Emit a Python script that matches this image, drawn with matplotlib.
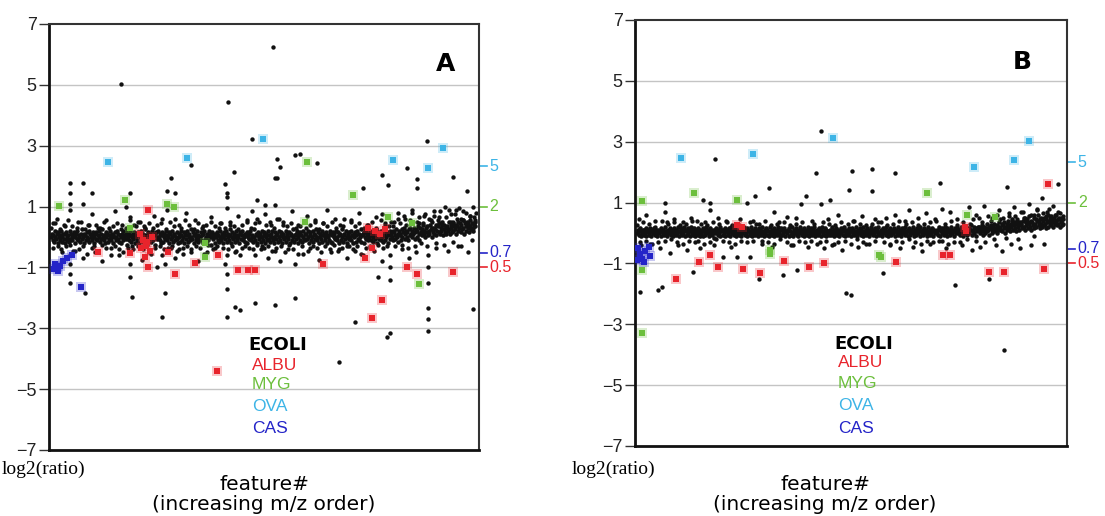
import numpy as np
import matplotlib
matplotlib.use('Agg')
import matplotlib.pyplot as plt
import matplotlib.transforms as mtransforms

# ---------------- data ----------------
ratio_ticks = [5, 2, 0.7, 0.5]
ratio_labels = ['5', '2', '0.7', '0.5']
y_ticks = [-7, -5, -3, -1, 1, 3, 5, 7]
legend_names = ['ECOLI', 'ALBU', 'MYG', 'OVA', 'CAS']

# Panel A: main (ECOLI) feature band, log2(ratio) per feature index
a_band = [
 0,.1,-.1,.05,-.15,.2,0,-.05,.1,-.2,.15,0,-.1,.05,.2,-.15,0,.1,-.05,-.2,.1,.15,-.1,0,.05,-.15,.2,-.05,.1,0,
 -.1,.05,.15,-.2,0,.1,-.05,.2,-.1,.05,0,-.15,.1,.25,-.05,0,-.2,.1,.05,-.1,.15,0,-.05,.2,-.15,.1,0,-.1,.05,.15,
 -.2,0,.1,-.05,.15,-.1,.05,.2,0,-.15,.1,-.05,.25,0,-.1,.05,-.2,.15,0,.1,-.15,.05,-.05,.2,0,-.1,.1,-.2,.05,0,
 .15,-.1,0,.2,-.05,.1,-.15,.05,0,-.2,.1,.2,-.1,0,.05,-.05,.15,-.25,.1,0,-.1,.2,.05,-.15,0,.1,-.05,.15,-.2,.05,
 0,-.1,.15,.05,-.2,.1,0,.2,-.05,-.15,.1,.05,-.1,.25,0,-.2,.05,.15,-.05,0,.1,-.15,.2,0,-.1,.05,.1,-.25,.15,0,
 -.05,.2,0,-.1,.1,-.2,.15,.05,-.15,0,.1,-.05,.2,-.1,.05,0,-.2,.15,.1,-.05,0,.2,-.15,.05,.1,-.1,0,.15,-.05,-.2,
 .1,0,-.15,.2,.05,-.1,0,.15,-.2,.1,-.05,.05,.2,-.15,0,.1,-.1,.25,0,-.05,.15,-.2,.05,.1,-.1,0,.2,-.15,.05,-.05,
 0,.15,-.1,.05,-.2,.1,.2,-.05,0,-.15,.1,.05,-.1,.2,0,-.25,.1,.15,-.05,0,.05,-.2,.1,0,.15,-.1,.05,-.15,.2,0,
 -.1,.1,0,-.2,.15,.05,-.05,.2,-.15,0,.1,-.1,.05,.25,-.2,0,.15,-.05,.1,-.15,0,.2,-.1,.05,0,-.2,.1,.15,-.05,.05,
 .2,-.1,0,.1,-.15,.05,.15,-.2,0,.1,-.05,.2,-.1,0,.05,-.15,.25,0,-.1,.1,.05,-.2,.15,0,-.05,.1,-.15,.2,0,-.1,
 .05,.15,-.2,0,.1,-.1,.2,-.05,.05,-.15,0,.1,.2,-.1,0,-.2,.15,.05,-.05,.1,-.15,0,.2,-.1,.05,.15,-.2,0,.1,-.05,
 0,.2,-.15,.1,-.05,0,.15,-.2,.05,.1,-.1,.25,0,-.15,.05,.1,-.05,.2,-.2,0,.1,-.1,.15,.05,-.15,0,.2,-.05,.1,-.1,
 .1,-.05,.2,0,-.2,.15,.05,-.1,0,.2,-.15,.1,-.05,.05,.25,-.1,0,.15,-.2,.1,0,-.05,.2,-.15,.05,.1,-.1,0,.15,-.2,
 .05,0,-.1,.2,.1,-.15,.05,-.2,.15,0,.1,-.05,.2,-.1,0,.15,-.2,.05,.1,-.1,.25,0,-.15,.1,.05,-.05,.2,-.2,0,.1,
 -.05,.15,0,-.1,.2,.05,-.2,.1,0,.15,-.15,.05,.2,-.05,.1,-.1,0,.25,-.15,.05,.1,-.2,.15,0,-.05,.2,.1,-.1,.05,0,
 .15,-.1,.05,.2,0,-.15,.1,-.05,.25,0,-.2,.1,.15,-.05,.05,-.1,.2,0,-.15,.1,.05,.2,-.1,0,.15,-.2,.1,.05,-.05,.2,
 .1,0,.2,-.1,.15,.05,-.05,.25,0,.1,-.15,.2,.05,.1,-.1,.25,0,.15,.3,-.05,.1,.2,0,.15,-.1,.25,.05,.3,.1,0,
 .2,.1,.3,-.05,.15,.25,0,.2,.35,.1,-.1,.3,.15,.05,.25,.4,.1,.2,0,.3,.15,.35,.05,.2,.1,.4,.25,0,.3,.15,
 .3,.1,.25,.4,.05,.2,.35,.15,.45,.1,.3,.2,.5,.05,.25,.4,.15,.3,.1,.35,.2,.5,.25,.1,.4,.3,.15,.45,.2,.35,
 .25,.4,.1,.35,.5,.2,.3,.45,.15,.4,.25,.55,.3,.1,.45,.35,.2,.5,.3,.4,.15,.35,.55,.25,.45,.3,.2,.4,.5,.35,
]
# Panel A: looser halo of the band (every 3rd feature)
a_halo = [
 .3,-.35,.45,-.3,.25,-.5,.4,-.3,.55,-.25,.35,-.45,.3,-.4,.5,-.3,.25,-.55,.4,-.35,
 -.3,.4,-.45,.3,-.25,.5,-.35,.3,-.6,.35,-.3,.45,-.4,.25,-.5,.3,-.35,.55,-.3,.4,
 .35,-.3,.5,-.4,.3,-.25,.45,-.55,.3,-.35,.4,-.3,.6,-.4,.25,-.35,.5,-.3,.35,-.45,
 -.4,.3,-.35,.55,-.3,.4,-.5,.25,-.3,.45,-.35,.3,-.55,.4,-.25,.5,-.4,.35,-.3,.3,
 .45,-.35,.3,-.4,.5,-.3,.35,-.45,.25,-.6,.4,-.3,.55,-.35,.3,-.4,.45,-.25,.5,-.3,
 -.35,.4,-.3,.5,-.45,.3,-.35,.6,-.3,.4,-.5,.35,-.25,.45,-.4,.3,-.55,.35,-.3,.5,
 .3,-.45,.4,-.3,.55,-.35,.25,-.5,.45,-.3,.35,-.4,.5,-.25,.3,-.45,.4,-.35,.6,-.3,
 -.3,.5,-.4,.35,-.3,.45,-.55,.3,-.35,.4,-.3,.5,-.45,.3,-.25,.55,-.35,.4,-.3,.35,
 .5,.35,-.3,.6,.45,-.25,.7,.4,-.35,.55,.8,-.3,.5,.65,-.2,.45,.75,-.3,.6,.5,
 .7,-.2,.55,.85,.4,-.25,.65,.9,.5,-.15,.75,.6,.95,-.3,.55,.8,.45,.7,-.1,.65,
]
# Panel A: scattered ECOLI features (feature index, log2 ratio)
a_scatter = [
 (3,.45),(8,.6),(14,-.4),(20,.35),(27,.9),(27,1.1),(27,-.6),(27,-.9),(27,-1.2),(31,-.45),(38,.5),(45,1.1),
 (45,-.7),(52,.4),(58,.75),(62,-.5),(66,.3),(72,-.8),(77,.55),(84,-.35),(90,.85),(96,-.6),(100,.4),(106,1.0),
 (111,.65),(111,-.9),(111,-1.3),(116,-.4),(122,.5),(128,-.75),(131,.35),(138,-.5),(145,.7),(150,-1.0),
 (155,.45),(157,-.6),(161,-.9),(164,.9),(169,-.35),(175,.6),(175,-.7),(180,.4),(186,-.55),(190,.8),(197,-.4),
 (203,.55),(208,-.8),(214,.35),(220,-.5),(226,.65),(232,-.35),(238,.45),(245,-.9),(248,.95),(248,-.6),
 (248,-1.2),(253,.4),(259,-.5),(264,.7),(270,-.35),(276,.5),(283,.85),(288,-.6),(290,.6),(296,-.4),(302,.75),
 (306,-.7),(311,.4),(316,1.05),(316,-.45),(319,.6),(323,-.8),(328,.5),(334,-.4),(340,.85),(344,-.9),(349,.4),
 (355,-.55),(361,.7),(366,-.35),(372,.5),(378,-.75),(384,.45),(390,.9),(395,-.5),(401,.6),(407,-.4),(412,.35),
 (418,-.7),(424,.55),(429,-.45),(435,.8),(440,-.6),(446,.4),(452,-.35),(458,.65),(462,-1.3),(467,.75),
 (467,-.8),(472,.45),(478,-.6),(478,-1.0),(478,-1.4),(484,.5),(490,.8),(495,-.4),(500,.6),(505,-.7),(510,.9),
 (515,-.5),(520,.45),(526,.7),(532,-.6),(532,-1.0),(532,-1.5),(536,.55),(540,.85),(544,-.35),(548,.65),
 (552,.4),(556,1.0),(560,-.45),(564,.75),(567,.5),(571,.9),(575,-.3),(578,.6),(582,.85),(586,.45),(589,-.5),
 (592,.7),(595,1.0),(598,.55),(600,.8),
 (99,5.03),(313,6.24),(250,4.44),(283,3.22),(197,2.37),(258,2.13),(169,1.93),(27,1.78),(45,1.78),(245,1.74),
 (319,1.93),(319,2.56),(111,1.44),(27,1.44),(58,1.45),(164,1.5),(175,1.45),(248,1.45),(248,1.3),(290,1.2),
 (302,1.05),(530,3.15),(344,2.7),(351,2.73),(375,2.43),(323,2.3),(316,1.94),(440,1.6),(467,2.03),(475,1.7),
 (502,2.27),(517,1.9),(517,1.6),(567,1.97),(587,1.5),(27,-1.5),(48,-1.85),(114,-1.97),(161,-1.85),
 (157,-2.63),(248,-1.7),(259,-2.3),(266,-2.4),(288,-2.17),(248,-2.63),(429,-2.8),(478,-3.15),(532,-2.33),
 (532,-2.7),(532,-3.1),(595,-2.37),(316,-2.23),(344,-2.0),(407,-4.1),(474,-3.3),
]
a_albu = [(137,.88),(125,.1),(130,-.1),(134,-.3),(140,-.45),(142,0),(135,-.15),(127,-.35),(66,-.5),(111,-.53),
          (133,-.66),(137,-1.0),(165,-.5),(175,-1.2),(203,-.85),(235,-.6),(264,-1.08),(278,-1.08),(288,-1.08),
          (384,-.88),(502,-1.0),(517,-1.2),(568,-1.15),(467,-2.07),(453,-2.66),(447,.3),(457,.2),(464,.1),
          (471,.25),(453,-.35),(443,-.7),(234,-4.4)]
a_myg = [(11,1.02),(104,1.2),(164,1.1),(173,.98),(111,.3),(217,-.2),(217,-.66),(361,2.47),(358,.5),(426,1.38),
         (475,.66),(510,.46),(520,-1.55)]
a_ova = [(80,2.47),(192,2.6),(299,3.22),(482,2.53),(553,2.92),(532,2.27)]
a_cas = [(6,-.9),(8,-1.0),(10,-1.12),(4,-1.05),(17,-.8),(23,-.7),(30,-.6),(42,-1.65),(13,-.95)]

# Panel B
b_band = [
 0,.1,-.05,.05,.15,-.1,.05,0,.1,-.05,.1,0,.15,-.1,.05,.1,0,-.05,.15,.05,-.1,.1,0,.05,.15,-.05,.1,0,-.1,.05,
 .1,0,.05,-.1,.15,.05,0,.1,-.05,.2,0,.05,-.1,.1,.05,0,.15,-.05,.05,.1,-.1,0,.15,.05,-.05,.1,0,.2,.05,-.1,
 .05,.15,0,-.05,.1,0,.2,-.1,.05,.1,-.05,.15,0,.05,-.1,.1,.2,0,-.05,.05,.15,-.1,0,.1,.05,-.05,.15,0,.1,-.1,
 0,.05,.15,-.1,.1,0,-.05,.2,.05,0,.1,-.1,.05,.15,0,-.05,.1,.05,-.15,.1,0,.15,.05,-.05,.1,0,.2,-.1,.05,.1,
 -.05,.1,0,.15,-.1,.05,.1,0,-.05,.15,.05,-.1,.2,0,.05,.1,-.05,0,.15,-.1,.05,.1,0,-.05,.2,.05,-.1,.1,0,.15,
 .1,-.05,.05,0,.15,-.1,.1,.05,0,-.05,.2,.1,-.1,0,.05,.15,-.05,.1,0,.05,-.1,.15,0,.1,-.05,.05,.2,0,-.1,.1,
 0,.15,-.05,.1,.05,-.1,0,.2,.05,-.05,.1,0,.15,-.1,.05,0,.1,-.05,.2,.05,0,-.1,.15,.1,-.05,0,.05,.15,-.1,.05,
 .05,0,.1,-.1,.15,.05,-.05,0,.2,-.1,.05,.1,0,.15,-.05,.05,-.1,.1,0,.2,.05,-.05,.1,0,-.1,.15,.05,0,.1,-.05,
 .1,.05,-.1,0,.15,.05,-.05,.1,0,.2,-.1,.05,0,.1,-.05,.15,0,.05,-.1,.1,.2,0,-.05,.05,.15,-.1,.1,0,.05,-.05,
 0,.1,.05,-.05,.2,0,-.1,.1,.05,0,.15,-.05,.1,0,-.1,.05,.15,0,.1,-.05,.05,.2,-.1,0,.1,.05,-.05,.15,0,.1,
 -.1,.05,.15,0,.1,-.05,.05,.2,0,-.1,.1,.05,0,.15,-.05,.1,0,-.1,.2,.05,0,.1,-.05,.15,0,.05,-.1,.1,.2,0,
 .05,-.05,.1,0,.15,-.1,.05,.1,0,.2,-.05,0,.1,.05,-.1,.15,0,.05,.1,-.05,.2,0,-.1,.05,.1,0,.15,-.05,.05,.1,
 0,.15,.05,-.1,.1,0,.2,-.05,.05,.1,0,-.1,.15,.05,0,.1,-.05,.2,0,.05,-.1,.1,.15,0,-.05,.1,.05,0,.2,-.1,
 .1,0,-.05,.15,.05,0,.1,-.1,.2,.05,0,.1,-.05,.15,0,.05,.1,-.1,0,.2,.05,-.05,.1,0,.15,.05,-.1,.1,0,.05,
 .05,.1,0,-.05,.2,.1,-.1,.05,.15,0,.1,-.05,.05,.2,0,-.1,.15,.05,.1,0,-.05,.2,.1,0,.05,-.1,.15,.05,0,.1,
 .15,0,.1,.05,-.05,.2,0,.1,-.1,.15,.05,0,.2,.1,-.05,.05,.15,0,.1,.25,-.05,.1,.05,.2,0,.15,-.1,.1,.05,.2,
 .1,.2,0,.15,.05,.25,-.05,.1,.2,0,.15,.3,.05,.1,.2,-.05,.15,.25,.1,0,.2,.3,.05,.15,.1,.25,0,.2,.35,.1,
 .2,.1,.3,.05,.25,.15,.35,0,.2,.3,.1,.4,.15,.25,.05,.3,.2,.45,.1,.25,.35,.15,.3,.05,.4,.2,.3,.1,.35,.25,
 .3,.15,.4,.2,.5,.1,.35,.25,.45,.15,.3,.55,.2,.4,.1,.35,.25,.5,.15,.3,.45,.2,.4,.6,.25,.35,.15,.5,.3,.2,
 .4,.25,.5,.3,.15,.45,.35,.6,.2,.4,.3,.55,.25,.45,.35,.2,.5,.3,.4,.6,.25,.45,.3,.5,.2,.4,.35,.25,.45,.3,
]
b_halo = [
 .25,-.3,.35,-.25,.3,-.35,.2,-.3,.4,-.25,.3,-.2,.35,-.3,.25,-.35,.3,-.25,.4,-.3,
 -.25,.3,-.35,.25,-.3,.35,-.2,.3,-.25,.4,-.3,.25,-.35,.3,-.25,.2,-.3,.35,-.25,.3,
 .3,-.25,.4,-.3,.25,-.35,.3,-.2,.35,-.3,.25,-.4,.3,-.25,.35,-.3,.2,-.25,.3,-.35,
 -.3,.35,-.25,.3,-.4,.25,-.3,.35,-.25,.3,-.35,.4,-.2,.3,-.3,.25,-.35,.3,-.25,.35,
 .35,-.3,.25,-.35,.3,-.25,.4,-.3,.3,-.2,.35,-.3,.25,-.35,.3,-.25,.35,-.3,.4,-.25,
 -.25,.3,-.35,.4,-.3,.25,-.3,.35,-.2,.3,.45,-.25,.5,.35,-.3,.55,.4,-.2,.6,.45,
 .5,-.15,.65,.4,.55,-.2,.7,.5,.35,.6,-.1,.75,.45,.65,.55,.8,.4,.6,.7,.5,
]
b_scatter = [
 (2,.45),(6,-.4),(12,.6),(18,-.35),(25,.4),(32,-.5),(39,1.0),(39,.7),(42,.35),(46,-.66),(52,.45),(58,-.4),
 (64,.35),(70,-.55),(76,.5),(78,-1.28),(84,.4),(88,-.5),(93,1.09),(96,.35),(103,1.0),(103,.77),(108,-.4),
 (114,.5),(120,-.8),(126,.35),(132,-.45),(141,-.8),(145,.45),(154,.99),(158,-.8),(163,.4),(171,-1.5),
 (176,-.35),(185,1.48),(190,-.45),(192,.7),(200,.35),(205,-1.38),(211,.53),(216,-.4),(223,.5),(225,-1.2),
 (230,.95),(237,1.2),(240,-.45),(246,.4),(252,1.97),(258,.95),(262,-.5),(268,.45),(271,1.08),(276,-.35),
 (282,.6),(288,-.55),(294,-1.97),(298,1.4),(302,2.04),(304,.4),(310,-.45),(316,.55),(322,-.35),(330,1.38),
 (334,.45),(346,-1.3),(350,.5),(356,-.4),(362,.6),(370,-.5),(376,.4),(382,.75),(388,-.45),(394,.5),
 (400,-.6),(406,.65),(412,-.35),(418,.45),(425,1.64),(428,.8),(434,-.5),(440,.7),(446,-1.7),(450,.45),
 (456,-.4),(466,.85),(470,-.55),(476,.6),(482,-.45),(488,.9),(494,-1.5),(498,.5),(504,-.4),(508,.75),
 (512,-.6),(515,-3.85),(519,1.51),(522,.55),(526,-.35),(530,.85),(534,.45),(538,-.5),(542,.7),(546,.35),
 (550,.95),(554,-.4),(558,.6),(562,.8),(566,.45),(569,1.15),(572,-.35),(576,.7),(580,.5),(584,.9),(588,.4),
 (591,1.61),(594,.65),(598,.55),
 (110,2.43),(258,3.35),(4,-1.94),(35,-1.77),(30,-1.87),(300,-2.04),(362,1.97),(166,1.2),(330,2.1),(205,-.9),
]
b_albu = [(141,.26),(148,.2),(54,-1.5),(87,-.95),(103,-.72),(113,-1.12),(149,-1.18),(173,-1.32),(207,-.93),
          (241,-1.12),(262,-.98),(364,-.95),(430,-.72),(439,-.72),(495,-1.28),(516,-1.28),(571,-1.18),
          (578,1.61),(460,.2),(462,.05)]
b_myg = [(7,1.06),(80,1.31),(141,1.08),(187,-.55),(187,-.7),(7,-1.2),(7,-3.3),(407,1.31),(464,.6),(503,.53),
         (340,-.72),(343,-.8)]
b_ova = [(62,2.46),(163,2.59),(275,3.12),(474,2.17),(530,2.4),(551,3.02)]
b_cas = [(1,-.5),(4,-.7),(7,-.85),(11,-.6),(16,-.45),(18,-.75),(0,-.9),(10,-.95)]

# ---------------- styling ----------------
C_BLACK = '#111111'
C_RED = '#e8242c'
C_GREEN = '#6cbf3c'
C_CYAN = '#3db4e6'
C_BLUE = '#2424c8'
series_colors = ['black', C_RED, C_GREEN, C_CYAN, C_BLUE]
ratio_colors = [C_CYAN, C_GREEN, C_BLUE, C_RED]

fig = plt.figure(figsize=(11.05, 5.16), dpi=100)
axA = fig.add_axes([49/1105, 66/516, 430/1105, 426/516])
axB = fig.add_axes([635/1105, 70/516, 432/1105, 426/516])


def draw(ax, band, halo, scatter, albu, myg, ova, cas, letter, letter_xy, leg_x, leg_y):
    ax.set_xlim(-3, 604)
    ax.set_ylim(-7, 7)
    for g in [-5, -3, -1, 1, 3, 5]:
        ax.axhline(g, color='#c4c4c4', lw=1.0, zorder=0)
    bx = np.arange(len(band))
    ax.scatter(bx, band, s=11, c=C_BLACK, linewidths=0, zorder=2)
    hx = np.arange(len(halo)) * (len(band) / len(halo))
    ax.scatter(hx, halo, s=10, c=C_BLACK, linewidths=0, zorder=2)
    sx, sy = zip(*scatter)
    ax.scatter(sx, sy, s=10, c=C_BLACK, linewidths=0, zorder=2)
    for pts, col in [(albu, C_RED), (myg, C_GREEN), (ova, C_CYAN), (cas, C_BLUE)]:
        px, py = zip(*pts)
        ax.scatter(px, py, s=60, c=col, alpha=0.25, marker='s', linewidths=0, zorder=3)
        ax.scatter(px, py, s=22, c=col, marker='s', linewidths=0, zorder=4)
    # spines
    for side in ['left', 'bottom']:
        ax.spines[side].set_linewidth(2.0)
        ax.spines[side].set_color('#111111')
    for side in ['top', 'right']:
        ax.spines[side].set_linewidth(1.5)
        ax.spines[side].set_color('#333333')
    ax.set_xticks([])
    ax.set_yticks(y_ticks)
    ax.set_yticklabels([str(t).replace('-', '\u2212') for t in y_ticks],
                       fontsize=13, family='Liberation Sans', color='#222222')
    ax.tick_params(axis='y', length=7, width=1, pad=2, color='#333333')
    # right ratio ticks
    trans = mtransforms.blended_transform_factory(ax.transAxes, ax.transData)
    for r, lab, col in zip(ratio_ticks, ratio_labels, ratio_colors):
        yv = np.log2(r)
        ax.plot([1.0, 1.019], [yv, yv], transform=trans, color=col, lw=1.2, clip_on=False)
        ax.text(1.025, yv, lab, transform=trans, color=col, fontsize=11.5,
                family='Liberation Sans', va='center', ha='left')
    # panel letter
    ax.text(letter_xy[0], letter_xy[1], letter, transform=ax.transAxes, fontsize=18,
            fontweight='bold', family='DejaVu Sans', ha='center', va='center')
    # legend texts
    for k, (name, col) in enumerate(zip(legend_names, series_colors)):
        if k == 0:
            ax.text(leg_x[0], leg_y[0], name, transform=ax.transAxes, fontsize=13,
                    fontweight='bold', family='DejaVu Sans', color='black', va='center', ha='left')
        else:
            ax.text(leg_x[1], leg_y[k], name, transform=ax.transAxes, fontsize=12.5,
                    family='Liberation Sans', color=col, va='center', ha='left')


draw(axA, a_band, a_halo, a_scatter, a_albu, a_myg, a_ova, a_cas, 'A', (0.923, 0.906),
     (0.463, 0.472), [0.246, 0.1995, 0.1526, 0.101, 0.0516])
draw(axB, b_band, b_halo, b_scatter, b_albu, b_myg, b_ova, b_cas, 'B', (0.896, 0.901),
     (0.462, 0.470), [0.239, 0.195, 0.146, 0.094, 0.042])

# axis annotations
for cx, lx in [(264, 2), (825, 572)]:
    fig.text(lx/1105, 1 - 469/516, 'log2(ratio)', family='Liberation Serif', fontsize=14,
             ha='left', va='center')
    fig.text(cx/1105, 1 - 484/516, 'feature#', family='DejaVu Sans', fontsize=14.5,
             ha='center', va='center')
    fig.text(cx/1105, 1 - 505/516, '(increasing m/z order)', family='DejaVu Sans', fontsize=14.5,
             ha='center', va='center')

fig.savefig('out.png', dpi=100)
